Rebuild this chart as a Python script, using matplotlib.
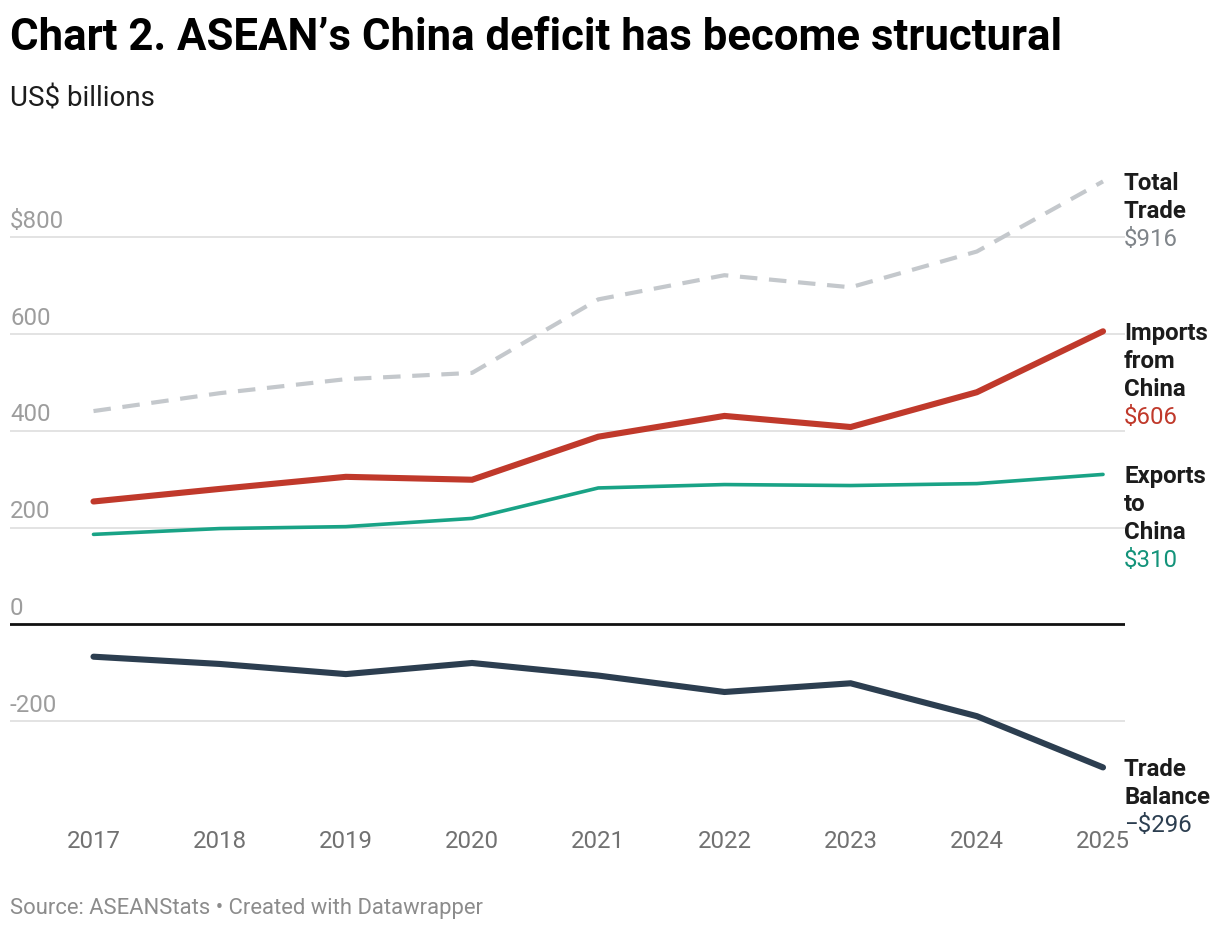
import matplotlib
matplotlib.use("Agg")
import matplotlib.pyplot as plt
import matplotlib.transforms as mtransforms

years = [2017, 2018, 2019, 2020, 2021, 2022, 2023, 2024, 2025]
total_trade = [441, 478, 507, 520, 672, 722, 697, 771, 916]
imports_china = [254, 280, 305, 299, 388, 431, 408, 480, 606]
exports_china = [186, 198, 202, 219, 282, 289, 287, 291, 310]
trade_balance = [-67, -82, -103, -80, -106, -140, -122, -190, -296]

ytick_values = [800, 600, 400, 200, 0, -200]
ytick_labels = ["$800", "600", "400", "200", "0", "-200"]

series_names = [["Total", "Trade"], ["Imports", "from", "China"],
                ["Exports", "to", "China"], ["Trade", "Balance"]]
series_values_text = ["$916", "$606", "$310", "\u2212$296"]

title = "Chart 2. ASEAN\u2019s China deficit has become structural"
subtitle = "US$ billions"
footer = "Source: ASEANStats \u2022 Created with Datawrapper"

plt.rcParams['font.family'] = ['Roboto', 'DejaVu Sans']

W, H = 1220, 930
fig = plt.figure(figsize=(W / 100, H / 100), dpi=100)

# axes geometry in pixels
ax_left, ax_right = 10, 1125
ax_top, ax_bottom = 150, 800
ax = fig.add_axes([ax_left / W, 1 - ax_bottom / H,
                   (ax_right - ax_left) / W, (ax_bottom - ax_top) / H])

px_per_unit = 96.7 / 200.0
zero_px = 624.3
ax.set_ylim((zero_px - ax_bottom) / px_per_unit, (zero_px - ax_top) / px_per_unit)
x0_px, step = 93.5, 126.19
ax.set_xlim(2017 - (x0_px - ax_left) / step, 2025 + (ax_right - (x0_px + 8 * step)) / step)

for s in ax.spines.values():
    s.set_visible(False)
ax.set_facecolor("none")

# gridlines
for v in ytick_values:
    if v == 0:
        ax.axhline(0, color="#111111", lw=2.0, zorder=2)
    else:
        ax.axhline(v, color="#e3e3e3", lw=1.4, zorder=1)

# y labels above grid lines
trans = mtransforms.blended_transform_factory(ax.transAxes, ax.transData)
trans = trans + mtransforms.ScaledTranslation(0, 4.5 / 100, fig.dpi_scale_trans)
for v, lab in zip(ytick_values, ytick_labels):
    ax.text(0, v, lab, transform=trans, ha="left", va="bottom",
            fontsize=17.3, color="#9d9d9d")

c_total = "#c4c8cc"
c_imp = "#c0392b"
c_exp = "#19a386"
c_bal = "#2c3e50"

ax.plot(years, total_trade, color=c_total, lw=3.0, dashes=(4.2, 2.8),
        dash_capstyle="butt", zorder=3)
ax.plot(years, imports_china, color=c_imp, lw=4.4, solid_capstyle="round",
        solid_joinstyle="miter", zorder=4)
ax.plot(years, exports_china, color=c_exp, lw=2.6, solid_capstyle="round", zorder=4)
ax.plot(years, trade_balance, color=c_bal, lw=4.4, solid_capstyle="round",
        solid_joinstyle="miter", zorder=4)

# x ticks
ax.set_xticks(years)
ax.set_xticklabels([str(y) for y in years])
ax.tick_params(axis="x", length=0, pad=21.5, labelsize=17.3, labelcolor="#717171")
ax.set_yticks([])

# end labels
ends = [total_trade[-1], imports_china[-1], exports_china[-1], trade_balance[-1]]
val_colors = ["#80858a", "#c0392b", "#13937a", "#2c3e50"]
line_px = 28
for names, vtxt, end, vc in zip(series_names, series_values_text, ends, val_colors):
    y_px = zero_px - end * px_per_unit + 2
    for i, nm in enumerate(names):
        fig.text(1124 / W, 1 - (y_px + i * line_px) / H, nm, ha="left", va="center",
                 fontsize=17.3, fontweight="bold", color="#1c1c1c")
    fig.text(1124 / W, 1 - (y_px + len(names) * line_px) / H, vtxt, ha="left",
             va="center", fontsize=17.3, color=vc)

fig.text(10 / W, 1 - 38 / H, title, ha="left", va="center", fontsize=31.5,
         fontweight="bold", color="#000000")
fig.text(10 / W, 1 - 99 / H, subtitle, ha="left", va="center", fontsize=20,
         color="#1c1c1c")
fig.text(10 / W, 1 - 908 / H, footer, ha="left", va="center", fontsize=15.8,
         color="#8c8c8c")

fig.savefig("out.png", dpi=100, facecolor="white")
